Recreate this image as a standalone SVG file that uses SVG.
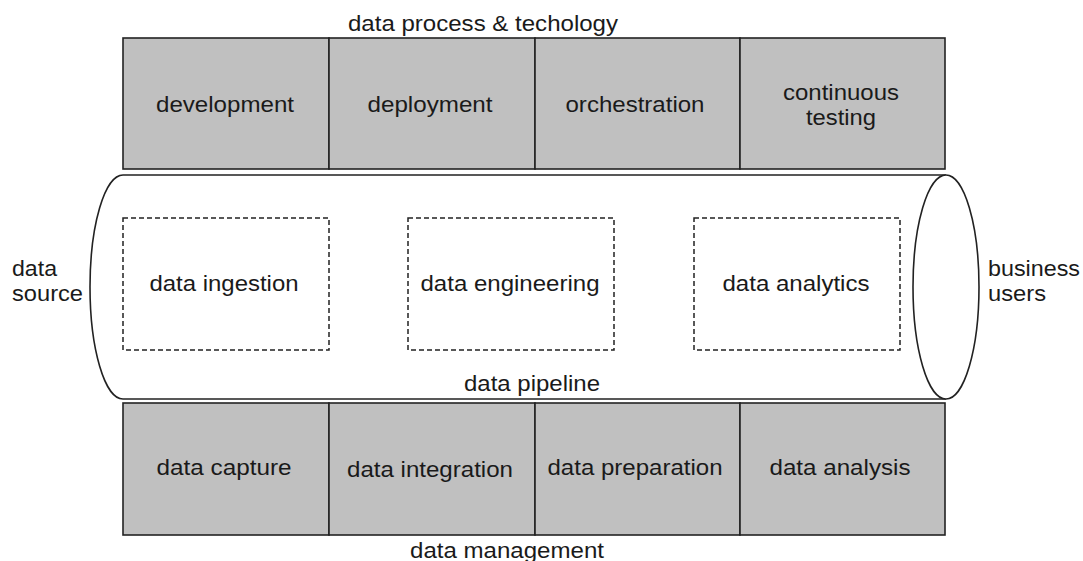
<svg xmlns="http://www.w3.org/2000/svg" width="1083" height="561" viewBox="0 0 1083 561">
<style>
text{font-family:"Liberation Sans",Arial,sans-serif;font-size:22px;fill:#1a1a1a}
.box{fill:#c0c0c0;stroke:#222;stroke-width:1.6}
.dash{fill:none;stroke:#222;stroke-width:1.5;stroke-dasharray:5,3}
.pipe{fill:#fff;stroke:#222;stroke-width:1.6}
.c{text-anchor:middle}
</style>
<rect width="1083" height="561" fill="#fff"/>
<text class="c" x="483" y="31" textLength="270" lengthAdjust="spacingAndGlyphs">data process &amp; techology</text>
<g id="development"><rect class="box" x="123" y="38" width="206" height="131"/><text class="c" x="225" y="112" textLength="138" lengthAdjust="spacingAndGlyphs">development</text></g>
<g id="deployment"><rect class="box" x="329" y="38" width="206" height="131"/><text class="c" x="430" y="112" textLength="125" lengthAdjust="spacingAndGlyphs">deployment</text></g>
<g id="orchestration"><rect class="box" x="535" y="38" width="205" height="131"/><text class="c" x="635" y="112" textLength="139" lengthAdjust="spacingAndGlyphs">orchestration</text></g>
<g id="continuous-testing"><rect class="box" x="740" y="38" width="205" height="131"/><text class="c" x="841" y="100" textLength="116" lengthAdjust="spacingAndGlyphs">continuous</text><text class="c" x="841" y="125" textLength="70" lengthAdjust="spacingAndGlyphs">testing</text></g>
<g id="pipeline">
<path class="pipe" d="M946,175 L123,175 A33,112 0 0 0 123,399 L946,399"/>
<ellipse class="pipe" cx="946" cy="287" rx="33" ry="112"/>
<text class="c" x="532" y="391" textLength="136" lengthAdjust="spacingAndGlyphs">data pipeline</text>
</g>
<g id="data-ingestion"><rect class="dash" x="123" y="218" width="206" height="132"/><text class="c" x="224" y="291" textLength="149" lengthAdjust="spacingAndGlyphs">data ingestion</text></g>
<g id="data-engineering"><rect class="dash" x="408" y="218" width="206" height="132"/><text class="c" x="510" y="291" textLength="179" lengthAdjust="spacingAndGlyphs">data engineering</text></g>
<g id="data-analytics"><rect class="dash" x="694" y="218" width="206" height="132"/><text class="c" x="796" y="291" textLength="147" lengthAdjust="spacingAndGlyphs">data analytics</text></g>
<g id="data-source"><text x="12" y="276" textLength="45" lengthAdjust="spacingAndGlyphs">data</text><text x="12" y="301" textLength="71" lengthAdjust="spacingAndGlyphs">source</text></g>
<g id="business-users"><text x="988" y="276" textLength="92" lengthAdjust="spacingAndGlyphs">business</text><text x="988" y="301" textLength="58" lengthAdjust="spacingAndGlyphs">users</text></g>
<g id="data-capture"><rect class="box" x="123" y="403" width="206" height="132"/><text class="c" x="224" y="475" textLength="135" lengthAdjust="spacingAndGlyphs">data capture</text></g>
<g id="data-integration"><rect class="box" x="329" y="403" width="206" height="132"/><text class="c" x="430" y="477" textLength="166" lengthAdjust="spacingAndGlyphs">data integration</text></g>
<g id="data-preparation"><rect class="box" x="535" y="403" width="205" height="132"/><text class="c" x="635" y="475" textLength="175" lengthAdjust="spacingAndGlyphs">data preparation</text></g>
<g id="data-analysis"><rect class="box" x="740" y="403" width="205" height="132"/><text class="c" x="840" y="475" textLength="141" lengthAdjust="spacingAndGlyphs">data analysis</text></g>
<text class="c" x="507" y="558" textLength="194" lengthAdjust="spacingAndGlyphs">data management</text>
<g id="connectors"/>
</svg>
